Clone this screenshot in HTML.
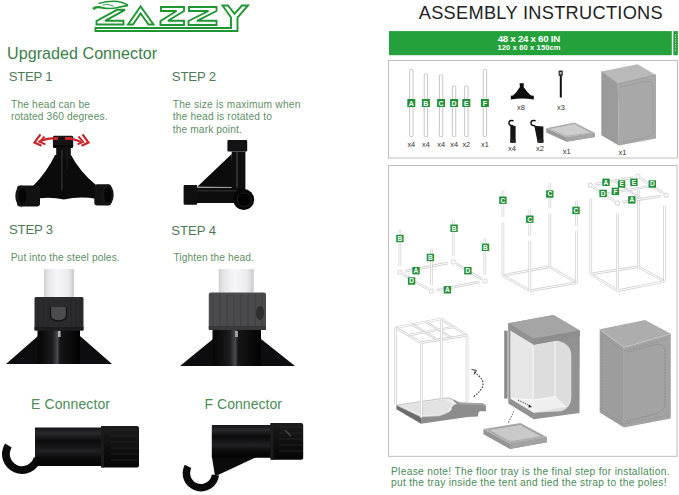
<!DOCTYPE html>
<html><head><meta charset="utf-8">
<style>
html,body{margin:0;padding:0;background:#fff;width:679px;height:495px;overflow:hidden}
svg{display:block}
text{font-family:"Liberation Sans",sans-serif}
</style></head><body>
<svg width="679" height="495" viewBox="0 0 679 495">
<g fill="#fff" stroke="#1e9632" stroke-width="1.9" stroke-linejoin="miter" stroke-miterlimit="3">
<polygon points="117,9.8 125,9.8 105,20.8 123.5,20.8 123.5,24.5 96.5,24.5 96.5,21"/>
<polygon points="128,24.5 140.6,6.5 153.5,24.5 148.5,24.5 140.6,13.5 133,24.5"/>
<polygon points="161,7 184,7 184,11 168,20.8 184,20.8 184,25 160.5,25 160.5,21 176.5,11 161,11"/>
<polygon points="189,7 216.5,7 216.5,11 197,20.8 216.5,20.8 216.5,25 188.5,25 188.5,21 208.5,11 189,11"/>
<polygon points="95.5,28 231,28 231,17.5 222.5,5.5 228,5.5 234.5,13.8 242,5.5 248,5.5 237.5,17.5 237.5,31 95.5,31"/>
</g>
<g fill="none" stroke="#1e9632" stroke-linecap="round">
<path d="M99,3.4 Q108,0.8 118,1.5 Q123,2.4 127.5,4.8" stroke-width="1.5"/>
<path d="M98,7.2 Q110,9.6 118,7.4 Q123,6 127.5,5.6" stroke-width="1.6"/>
<path d="M103,5 Q107,3.6 110,5 L113.5,6.2" stroke-width="0.9"/>
</g>
<path d="M92.3,8 Q94.5,5.6 99,6 L106,7.6 Q100,8.4 97.5,8.2 Q95,8.6 94,10.2 Z" fill="#1e9632"/>

<g fill="#3b8049">
<text x="7" y="58.7" font-size="16.1" textLength="150">Upgraded Connector</text>
</g>
<g fill="#4f7a57" font-size="13.2">
<text x="8.7" y="80.9" textLength="44">STEP 1</text>
<text x="171.8" y="81.1" textLength="44.3">STEP 2</text>
<text x="8.9" y="234.1" textLength="44.3">STEP 3</text>
<text x="171.3" y="234.6" textLength="44.8">STEP 4</text>
</g>
<g fill="#5e8f66" font-size="10.2">
<text x="11" y="107.8" textLength="79">The head can be</text>
<text x="11" y="120" textLength="96.5">rotated 360 degrees.</text>
<text x="172.8" y="107.9" textLength="127.5">The size is maximum when</text>
<text x="172.8" y="120.3" textLength="99">the head is rotated to</text>
<text x="172.8" y="133" textLength="69">the mark point.</text>
<text x="10.7" y="260.8" textLength="109">Put into the steel poles.</text>
<text x="173.4" y="260.8" textLength="80.5">Tighten the head.</text>
</g>
<g fill="#4b8c57" font-size="14">
<text x="31" y="409" textLength="79">E Connector</text>
<text x="204.5" y="409" textLength="77.5">F Connector</text>
</g>
<text x="418.7" y="18.8" font-size="18.2" fill="#222" textLength="244">ASSEMBLY INSTRUCTIONS</text>
<rect x="389" y="31.1" width="282.8" height="24.1" fill="#24a13b"/>
<rect x="673.3" y="31.1" width="4.6" height="24.1" fill="#24a13b"/><line x1="675.6" y1="34" x2="675.6" y2="52" stroke="#9fd8a8" stroke-width="1" stroke-dasharray="1.5,1"/>
<text x="497.7" y="41.6" font-size="9.7" font-weight="bold" fill="#fff" textLength="62.5">48 x 24 x 60 IN</text>
<text x="497.5" y="50.2" font-size="7.5" font-weight="bold" fill="#fff" textLength="63">120 x 60 x 150cm</text>
<g fill="#4b8a57" font-size="10.2">
<text x="391" y="475" textLength="278.5">Please note! The floor tray is the final step for installation.</text>
<text x="391" y="485.7" textLength="275.5">put the tray inside the tent and tied the strap to the poles!</text>
</g>

<defs>
<linearGradient id="tubeH" x1="0" y1="0" x2="1" y2="0">
<stop offset="0" stop-color="#050505"/><stop offset="0.35" stop-color="#1c1c1e"/><stop offset="0.47" stop-color="#4a4a4e"/><stop offset="0.53" stop-color="#151517"/><stop offset="1" stop-color="#020202"/>
</linearGradient>
<linearGradient id="poleH" x1="0" y1="0" x2="1" y2="0">
<stop offset="0" stop-color="#cfcfd3"/><stop offset="0.12" stop-color="#e4e4e8"/><stop offset="0.45" stop-color="#f6f6f8"/><stop offset="0.8" stop-color="#ececef"/><stop offset="1" stop-color="#cbcbcf"/>
</linearGradient>
<linearGradient id="bodyV" x1="0" y1="0" x2="0" y2="1">
<stop offset="0" stop-color="#141416"/><stop offset="0.15" stop-color="#2a2a2c"/><stop offset="0.35" stop-color="#0b0b0c"/><stop offset="0.62" stop-color="#202022"/><stop offset="0.8" stop-color="#0a0a0a"/><stop offset="1" stop-color="#030303"/>
</linearGradient>
<linearGradient id="capV" x1="0" y1="0" x2="0" y2="1">
<stop offset="0" stop-color="#1c1c1c"/><stop offset="0.5" stop-color="#101010"/><stop offset="1" stop-color="#050505"/>
</linearGradient>
</defs>

<!-- STEP 1 connector -->
<g id="c1">
<path d="M55,155 L71,155 Q80,172 96,185 L97,199 Q80,196 64,199.5 Q48,196 32,199.5 L33,186 Q47,172 55,155 Z" fill="#0b0b0c"/>
<rect x="56.2" y="147" width="14.6" height="12" fill="#101012"/>
<rect x="61" y="150" width="1.6" height="40" fill="#2a2a2e"/>
<rect x="66.5" y="150" width="1" height="20" fill="#1e1e22"/>
<rect x="52.9" y="135.7" width="20.3" height="12.2" rx="1.5" fill="#141416"/>
<rect x="53.5" y="145" width="19" height="2.5" fill="#0a0a0a"/>
<rect x="17" y="185.5" width="23" height="21" rx="3" fill="#121213"/>
<ellipse cx="21.5" cy="196" rx="6.2" ry="10.6" fill="#161617"/>
<ellipse cx="22.5" cy="196" rx="4" ry="8" fill="#050505"/>
<rect x="94.3" y="184.3" width="17" height="21.1" rx="3" fill="#121213"/>
<ellipse cx="107.5" cy="194.8" rx="6.2" ry="10.4" fill="#161617"/>
<ellipse cx="107.8" cy="194.8" rx="3.8" ry="7.8" fill="#050505"/>
<!-- red arrows -->
<g fill="none" stroke="#c8262b" stroke-width="2.2" stroke-linejoin="miter">
<path d="M53.5,138.4 Q45,138.6 38.5,142"/>
<path d="M65,138.4 Q74,138.6 81,142"/>
<path d="M40.5,134.3 L34.5,142.5 L41.5,145.8"/>
<path d="M44.5,136.5 L39.8,141.8 L45.5,144.3" stroke-width="1.9"/>
<path d="M82.5,134.3 L88.5,142.5 L81.5,145.8"/>
<path d="M78.5,136.5 L83.2,141.8 L77.5,144.3" stroke-width="1.9"/>
</g>
<rect x="53.5" y="137" width="4.5" height="3" fill="#c8262b"/>
<rect x="65" y="137" width="7" height="3" fill="#c8262b"/>
</g>

<!-- STEP 2 connector -->
<g id="c2">
<polygon points="197.3,186.7 231.7,154 233,187" fill="#0c0c0d"/>
<rect x="231.7" y="151.5" width="13.7" height="40" fill="#0e0e10"/>
<rect x="236" y="152" width="2" height="36" fill="#2e2e32"/>
<rect x="227.4" y="140" width="19.8" height="11.5" rx="1" fill="#131315"/>
<rect x="196.5" y="187.6" width="45" height="15.4" fill="#0d0d0e"/>
<rect x="196.5" y="190" width="40" height="1.5" fill="#262628"/>
<rect x="183.6" y="185" width="13.5" height="19.7" rx="1" fill="#0f0f10"/>
<circle cx="243.7" cy="199.6" r="10.5" fill="#070707"/>
<circle cx="244.2" cy="199.8" r="7" fill="#030303" stroke="#1e1e20" stroke-width="1"/>
</g>

<!-- STEP 3 -->
<g id="c3">
<rect x="44" y="269" width="30" height="28" fill="url(#poleH)"/>
<polygon points="6,364 38,336 38,364" fill="#0d0d10"/>
<polygon points="80,336 112,364 80,364" fill="#0d0d10"/>
<rect x="37.5" y="330" width="42.5" height="34" fill="url(#tubeH)"/>
<rect x="34.5" y="297" width="49" height="33.4" rx="1.5" fill="#2b2b2d"/>
<g stroke="#232325" stroke-width="0.8"><line x1="38" y1="299" x2="38" y2="328"/><line x1="43" y1="299" x2="43" y2="328"/><line x1="48" y1="299" x2="48" y2="328"/><line x1="71" y1="299" x2="71" y2="328"/><line x1="76" y1="299" x2="76" y2="328"/><line x1="80" y1="299" x2="80" y2="328"/></g>
<rect x="34.5" y="327" width="49" height="3.4" fill="#1c1c1e"/>
<path d="M50.5,307 L50.5,315.5 Q50.5,320.5 58.5,321 Q66.5,320.5 66.5,315.5 L66.5,307" fill="#4c4c4e" stroke="#141416" stroke-width="1.4"/>
<rect x="58" y="331" width="2.6" height="6" fill="#b0b0b0"/>
</g>

<!-- STEP 4 -->
<g id="c4">
<rect x="218.75" y="269" width="35" height="23.5" fill="url(#poleH)"/>
<polygon points="180,366 213,339 213,366" fill="#0d0d10"/>
<polygon points="261,339 295,366 261,366" fill="#0d0d10"/>
<rect x="212.5" y="330" width="48.5" height="36" fill="url(#tubeH)"/>
<rect x="208.75" y="292.5" width="57.25" height="37.5" rx="2" fill="#4b4b4d"/>
<g stroke="#3e3e40" stroke-width="1">
<line x1="213" y1="294" x2="213" y2="329"/><line x1="220" y1="294" x2="220" y2="329"/><line x1="227" y1="294" x2="227" y2="329"/><line x1="234" y1="294" x2="234" y2="329"/><line x1="241" y1="294" x2="241" y2="329"/><line x1="248" y1="294" x2="248" y2="329"/><line x1="255" y1="294" x2="255" y2="329"/><line x1="262" y1="294" x2="262" y2="329"/>
</g>
<rect x="208.75" y="326" width="57.25" height="4" fill="#3a3a3c"/>
<ellipse cx="260" cy="313" rx="4" ry="7" fill="#2f2f31"/>
<rect x="235" y="331" width="3" height="6" fill="#a0a0a0"/>
</g>

<!-- E connector -->
<g id="ce">
<path d="M5.0,443.4 A20,20 0 1 0 41.3,459.2 L33.8,457.2 A12.2,12.2 0 1 1 11.7,447.5 Z" fill="#0a0a0a"/>
<rect x="35" y="427.5" width="67.5" height="38.5" fill="url(#bodyV)"/>
<rect x="101" y="426" width="38" height="41.5" rx="2" fill="url(#capV)"/>
<g stroke="#262626" stroke-width="0.8"><line x1="111" y1="430" x2="138" y2="430"/><line x1="111" y1="436" x2="138" y2="436"/><line x1="111" y1="442" x2="138" y2="442"/><line x1="111" y1="448" x2="138" y2="448"/><line x1="111" y1="454" x2="138" y2="454"/><line x1="111" y1="460" x2="138" y2="460"/></g>
<rect x="101" y="426" width="3" height="41.5" fill="#1a1a1a"/>
</g>

<!-- F connector -->
<g id="cf">
<polygon points="211.8,456 258.5,456 218,475 214.8,475" fill="#0b0b0b"/>
<path d="M184.7,464.7 A18.3,18.3 0 1 0 219.1,475.5 L211.8,474.5 A10.9,10.9 0 1 1 191.3,468.1 Z" fill="#0a0a0a"/>
<rect x="211.8" y="424.9" width="60.6" height="32.8" rx="1" fill="url(#bodyV)"/>
<rect x="270.4" y="423" width="32.8" height="36.7" rx="2" fill="url(#capV)"/>
<g stroke="#262626" stroke-width="0.8"><line x1="279" y1="427" x2="302" y2="427"/><line x1="279" y1="433" x2="302" y2="433"/><line x1="279" y1="439" x2="302" y2="439"/><line x1="279" y1="445" x2="302" y2="445"/><line x1="279" y1="451" x2="302" y2="451"/></g>
<path d="M285,430 L291,436" stroke="#4a4a4a" stroke-width="1.5"/>
<rect x="270.4" y="423" width="3" height="36.7" fill="#1c1c1c"/>
</g>

<rect x="388.5" y="60.5" width="289" height="97.5" fill="none" stroke="#bcc1bc" stroke-width="1"/>
<rect x="409.6" y="69.4" width="3.4" height="67.2" rx="1" fill="#fff" stroke="#c0c0c0" stroke-width="0.9"/>
<rect x="407.3" y="99.0" width="8" height="8" fill="#23903a"/><text x="411.3" y="105.5" font-size="7" font-weight="bold" fill="#fff" text-anchor="middle">A</text>
<text x="411.3" y="146.6" font-size="7.3" fill="#333" text-anchor="middle">x4</text>
<rect x="424.2" y="74.0" width="3.4" height="62.6" rx="1" fill="#fff" stroke="#c0c0c0" stroke-width="0.9"/>
<rect x="421.9" y="99.0" width="8" height="8" fill="#23903a"/><text x="425.9" y="105.5" font-size="7" font-weight="bold" fill="#fff" text-anchor="middle">B</text>
<text x="425.9" y="146.6" font-size="7.3" fill="#333" text-anchor="middle">x4</text>
<rect x="439.4" y="75.0" width="3.4" height="61.6" rx="1" fill="#fff" stroke="#c0c0c0" stroke-width="0.9"/>
<rect x="437.1" y="99.0" width="8" height="8" fill="#23903a"/><text x="441.1" y="105.5" font-size="7" font-weight="bold" fill="#fff" text-anchor="middle">C</text>
<text x="441.1" y="146.6" font-size="7.3" fill="#333" text-anchor="middle">x4</text>
<rect x="452.4" y="86.0" width="3.4" height="50.6" rx="1" fill="#fff" stroke="#c0c0c0" stroke-width="0.9"/>
<rect x="450.1" y="99.0" width="8" height="8" fill="#23903a"/><text x="454.1" y="105.5" font-size="7" font-weight="bold" fill="#fff" text-anchor="middle">D</text>
<text x="454.1" y="146.6" font-size="7.3" fill="#333" text-anchor="middle">x4</text>
<rect x="464.6" y="86.0" width="3.4" height="50.6" rx="1" fill="#fff" stroke="#c0c0c0" stroke-width="0.9"/>
<rect x="462.3" y="99.0" width="8" height="8" fill="#23903a"/><text x="466.3" y="105.5" font-size="7" font-weight="bold" fill="#fff" text-anchor="middle">E</text>
<text x="466.3" y="146.6" font-size="7.3" fill="#333" text-anchor="middle">x2</text>
<rect x="483.2" y="69.4" width="3.4" height="67.2" rx="1" fill="#fff" stroke="#c0c0c0" stroke-width="0.9"/>
<rect x="480.9" y="99.0" width="8" height="8" fill="#23903a"/><text x="484.9" y="105.5" font-size="7" font-weight="bold" fill="#fff" text-anchor="middle">F</text>
<text x="484.9" y="146.6" font-size="7.3" fill="#333" text-anchor="middle">x1</text>
<path d="M519.6,83.2 L523.9,83.2 L523.6,87 Q527,92 531,95.6 L533.8,95.8 L533.8,99.6 Q522,97.6 510.8,99.6 L510.8,95.8 L513,95.6 Q517,92 519.9,87 Z" fill="#0d0d0d"/>
<text x="521" y="109.6" font-size="7.5" fill="#333" text-anchor="middle">x8</text>
<rect x="559.8" y="75" width="2" height="22.5" fill="#111"/><rect x="558.6" y="70.6" width="4.2" height="5.4" rx="1" fill="#2a2a2a"/><rect x="559.8" y="72" width="1.8" height="2.4" fill="#bbb"/>
<text x="561" y="109.6" font-size="7.5" fill="#333" text-anchor="middle">x3</text>
<path d="M513.6,120.8 Q509,119.5 509,123 Q509,126 513.2,125.8" fill="none" stroke="#111" stroke-width="1.5"/><rect x="510.3" y="125.8" width="5.3" height="16.9" fill="#151515"/><rect x="510.3" y="139.5" width="5.3" height="3.2" fill="#262626"/>
<text x="512" y="150.5" font-size="7.5" fill="#333" text-anchor="middle">x4</text>
<path d="M535.6,120.8 Q531,119.5 531,123 Q531,126 535.2,125.8" fill="none" stroke="#111" stroke-width="1.5"/><polygon points="534.3,125.8 543.4,126.6 543.4,142.7 537.7,142.7" fill="#151515"/><rect x="537.7" y="139.5" width="5.7" height="3.2" fill="#262626"/>
<text x="540" y="150.5" font-size="7.5" fill="#333" text-anchor="middle">x2</text>
<polygon points="546.2,128.3 566.5,137.3 594.9,132.7 594.9,137 566.5,141.7 546.2,132.6" fill="#989898"/><polygon points="566.5,137.3 594.9,132.7 594.9,137 566.5,141.7" fill="#a6a6a6"/>
<polygon points="546.2,128.3 574.5,122.5 594.9,132.7 566.5,137.3" fill="#b2b2b2"/>
<polygon points="549.5,128.4 574.3,123.6 591,132.5 566.4,135.8" fill="#cdcdcd"/><polyline points="549.5,128.4 574.3,123.6 591,132.5" fill="none" stroke="#989898" stroke-width="0.6"/>
<text x="566.6" y="153.7" font-size="7.5" fill="#333" text-anchor="middle">x1</text>
<polygon points="601.3,71.4 617.8,83.8 618.9,145.6 601.3,135.3" fill="#9b9b9b"/>
<polygon points="617.8,83.8 656.0,74.9 656.0,138.4 618.9,145.6" fill="#a8a8a8"/>
<polygon points="601.3,71.4 637.4,64.2 656.0,74.9 617.8,83.8" fill="#b9b9b9"/>
<path d="M621,87 L645,81.5 Q653,80 653,88 L653,130 Q653,136 646,137.5 L621.5,142.5" fill="none" stroke="#8f8f8f" stroke-width="0.7" stroke-dasharray="1.5,0.8"/>
<polyline points="601.3,71.4 617.8,83.8 656.0,74.9" fill="none" stroke="#8e8e8e" stroke-width="0.7"/>
<text x="622.4" y="155.3" font-size="7.5" fill="#333" text-anchor="middle">x1</text>
<rect x="388.5" y="165.5" width="288.5" height="290.8" fill="none" stroke="#bcc1bc" stroke-width="1"/>
<line x1="405.2" y1="271.2" x2="447.9" y2="263.0" stroke="#cacaca" stroke-width="2.4"/><line x1="405.2" y1="271.2" x2="447.9" y2="263.0" stroke="#fff" stroke-width="1.1"/>
<line x1="456.4" y1="263.9" x2="481.7" y2="279.1" stroke="#cacaca" stroke-width="2.4"/><line x1="456.4" y1="263.9" x2="481.7" y2="279.1" stroke="#fff" stroke-width="1.1"/>
<line x1="479.5" y1="282.0" x2="436.7" y2="290.2" stroke="#cacaca" stroke-width="2.4"/><line x1="479.5" y1="282.0" x2="436.7" y2="290.2" stroke="#fff" stroke-width="1.1"/>
<line x1="428.2" y1="289.3" x2="403.0" y2="274.1" stroke="#cacaca" stroke-width="2.4"/><line x1="428.2" y1="289.3" x2="403.0" y2="274.1" stroke="#fff" stroke-width="1.1"/>
<line x1="399.9" y1="229.7" x2="399.9" y2="266.0" stroke="#cacaca" stroke-width="2.6"/><line x1="399.9" y1="229.7" x2="399.9" y2="266.0" stroke="#fff" stroke-width="1.3"/>
<line x1="453.2" y1="220.0" x2="453.2" y2="256.0" stroke="#cacaca" stroke-width="2.6"/><line x1="453.2" y1="220.0" x2="453.2" y2="256.0" stroke="#fff" stroke-width="1.3"/>
<line x1="484.9" y1="238.5" x2="484.9" y2="275.0" stroke="#cacaca" stroke-width="2.6"/><line x1="484.9" y1="238.5" x2="484.9" y2="275.0" stroke="#fff" stroke-width="1.3"/>
<line x1="431.3" y1="249.3" x2="431.3" y2="285.0" stroke="#cacaca" stroke-width="2.6"/><line x1="431.3" y1="249.3" x2="431.3" y2="285.0" stroke="#fff" stroke-width="1.3"/>
<rect x="397.9" y="270.2" width="4" height="4" rx="1.2" fill="#fff" stroke="#c6c6c6" stroke-width="0.8"/>
<rect x="451.2" y="260.0" width="4" height="4" rx="1.2" fill="#fff" stroke="#c6c6c6" stroke-width="0.8"/>
<rect x="482.9" y="279.0" width="4" height="4" rx="1.2" fill="#fff" stroke="#c6c6c6" stroke-width="0.8"/>
<rect x="429.3" y="289.2" width="4" height="4" rx="1.2" fill="#fff" stroke="#c6c6c6" stroke-width="0.8"/>
<rect x="396.2" y="234.8" width="7.4" height="7.4" fill="#23903a"/><text x="399.9" y="240.9" font-size="6.6" font-weight="bold" fill="#fff" text-anchor="middle">B</text>
<rect x="450.4" y="224.5" width="7.4" height="7.4" fill="#23903a"/><text x="454.1" y="230.6" font-size="6.6" font-weight="bold" fill="#fff" text-anchor="middle">B</text>
<rect x="481.8" y="243.6" width="7.4" height="7.4" fill="#23903a"/><text x="485.5" y="249.7" font-size="6.6" font-weight="bold" fill="#fff" text-anchor="middle">B</text>
<rect x="426.7" y="253.8" width="7.4" height="7.4" fill="#23903a"/><text x="430.4" y="259.9" font-size="6.6" font-weight="bold" fill="#fff" text-anchor="middle">B</text>
<rect x="412.3" y="267.0" width="7.4" height="7.4" fill="#23903a"/><text x="416.0" y="273.1" font-size="6.6" font-weight="bold" fill="#fff" text-anchor="middle">A</text>
<rect x="443.7" y="286.1" width="7.4" height="7.4" fill="#23903a"/><text x="447.4" y="292.2" font-size="6.6" font-weight="bold" fill="#fff" text-anchor="middle">A</text>
<rect x="407.9" y="277.3" width="7.4" height="7.4" fill="#23903a"/><text x="411.6" y="283.4" font-size="6.6" font-weight="bold" fill="#fff" text-anchor="middle">D</text>
<rect x="464.2" y="267.0" width="7.4" height="7.4" fill="#23903a"/><text x="467.9" y="273.1" font-size="6.6" font-weight="bold" fill="#fff" text-anchor="middle">D</text>
<line x1="502.9" y1="275.5" x2="549.8" y2="266.7" stroke="#cacaca" stroke-width="2.4"/><line x1="502.9" y1="275.5" x2="549.8" y2="266.7" stroke="#fff" stroke-width="1.1"/>
<line x1="549.8" y1="266.7" x2="576.7" y2="282.8" stroke="#cacaca" stroke-width="2.4"/><line x1="549.8" y1="266.7" x2="576.7" y2="282.8" stroke="#fff" stroke-width="1.1"/>
<line x1="576.7" y1="282.8" x2="529.8" y2="290.7" stroke="#cacaca" stroke-width="2.4"/><line x1="576.7" y1="282.8" x2="529.8" y2="290.7" stroke="#fff" stroke-width="1.1"/>
<line x1="529.8" y1="290.7" x2="502.9" y2="275.5" stroke="#cacaca" stroke-width="2.4"/><line x1="529.8" y1="290.7" x2="502.9" y2="275.5" stroke="#fff" stroke-width="1.1"/>
<line x1="502.9" y1="190.5" x2="502.9" y2="217.0" stroke="#cacaca" stroke-width="2.6"/><line x1="502.9" y1="190.5" x2="502.9" y2="217.0" stroke="#fff" stroke-width="1.3"/>
<line x1="502.9" y1="222.0" x2="502.9" y2="275.5" stroke="#cacaca" stroke-width="2.6"/><line x1="502.9" y1="222.0" x2="502.9" y2="275.5" stroke="#fff" stroke-width="1.3"/>
<line x1="549.8" y1="183.0" x2="549.8" y2="208.0" stroke="#cacaca" stroke-width="2.6"/><line x1="549.8" y1="183.0" x2="549.8" y2="208.0" stroke="#fff" stroke-width="1.3"/>
<line x1="549.8" y1="213.0" x2="549.8" y2="266.7" stroke="#cacaca" stroke-width="2.6"/><line x1="549.8" y1="213.0" x2="549.8" y2="266.7" stroke="#fff" stroke-width="1.3"/>
<line x1="576.7" y1="200.8" x2="576.7" y2="226.0" stroke="#cacaca" stroke-width="2.6"/><line x1="576.7" y1="200.8" x2="576.7" y2="226.0" stroke="#fff" stroke-width="1.3"/>
<line x1="576.7" y1="231.0" x2="576.7" y2="282.8" stroke="#cacaca" stroke-width="2.6"/><line x1="576.7" y1="231.0" x2="576.7" y2="282.8" stroke="#fff" stroke-width="1.3"/>
<line x1="529.8" y1="209.6" x2="529.8" y2="236.0" stroke="#cacaca" stroke-width="2.6"/><line x1="529.8" y1="209.6" x2="529.8" y2="236.0" stroke="#fff" stroke-width="1.3"/>
<line x1="529.8" y1="241.0" x2="529.8" y2="290.7" stroke="#cacaca" stroke-width="2.6"/><line x1="529.8" y1="241.0" x2="529.8" y2="290.7" stroke="#fff" stroke-width="1.3"/>
<rect x="499.2" y="196.5" width="7.4" height="7.4" fill="#23903a"/><text x="502.9" y="202.6" font-size="6.6" font-weight="bold" fill="#fff" text-anchor="middle">C</text>
<rect x="546.1" y="190.3" width="7.4" height="7.4" fill="#23903a"/><text x="549.8" y="196.4" font-size="6.6" font-weight="bold" fill="#fff" text-anchor="middle">C</text>
<rect x="572.3" y="206.7" width="7.4" height="7.4" fill="#23903a"/><text x="576.0" y="212.8" font-size="6.6" font-weight="bold" fill="#fff" text-anchor="middle">C</text>
<rect x="526.1" y="215.5" width="7.4" height="7.4" fill="#23903a"/><text x="529.8" y="221.6" font-size="6.6" font-weight="bold" fill="#fff" text-anchor="middle">C</text>
<line x1="590.8" y1="274.0" x2="638.3" y2="266.7" stroke="#cacaca" stroke-width="2.4"/><line x1="590.8" y1="274.0" x2="638.3" y2="266.7" stroke="#fff" stroke-width="1.1"/>
<line x1="638.3" y1="266.7" x2="664.6" y2="281.4" stroke="#cacaca" stroke-width="2.4"/><line x1="638.3" y1="266.7" x2="664.6" y2="281.4" stroke="#fff" stroke-width="1.1"/>
<line x1="664.6" y1="281.4" x2="617.7" y2="290.7" stroke="#cacaca" stroke-width="2.4"/><line x1="664.6" y1="281.4" x2="617.7" y2="290.7" stroke="#fff" stroke-width="1.1"/>
<line x1="617.7" y1="290.7" x2="590.8" y2="274.0" stroke="#cacaca" stroke-width="2.4"/><line x1="617.7" y1="290.7" x2="590.8" y2="274.0" stroke="#fff" stroke-width="1.1"/>
<line x1="590.8" y1="198.5" x2="590.8" y2="274.0" stroke="#cacaca" stroke-width="2.6"/><line x1="590.8" y1="198.5" x2="590.8" y2="274.0" stroke="#fff" stroke-width="1.3"/>
<line x1="638.3" y1="190.5" x2="638.3" y2="266.7" stroke="#cacaca" stroke-width="2.6"/><line x1="638.3" y1="190.5" x2="638.3" y2="266.7" stroke="#fff" stroke-width="1.3"/>
<line x1="664.6" y1="205.8" x2="664.6" y2="281.4" stroke="#cacaca" stroke-width="2.6"/><line x1="664.6" y1="205.8" x2="664.6" y2="281.4" stroke="#fff" stroke-width="1.3"/>
<line x1="617.7" y1="213.0" x2="617.7" y2="290.7" stroke="#cacaca" stroke-width="2.6"/><line x1="617.7" y1="213.0" x2="617.7" y2="290.7" stroke="#fff" stroke-width="1.3"/>
<line x1="595.1" y1="184.3" x2="633.2" y2="177.5" stroke="#cacaca" stroke-width="2.4"/><line x1="595.1" y1="184.3" x2="633.2" y2="177.5" stroke="#fff" stroke-width="1.1"/>
<line x1="640.8" y1="178.5" x2="663.1" y2="193.3" stroke="#cacaca" stroke-width="2.4"/><line x1="640.8" y1="178.5" x2="663.1" y2="193.3" stroke="#fff" stroke-width="1.1"/>
<line x1="661.1" y1="196.0" x2="622.3" y2="202.3" stroke="#cacaca" stroke-width="2.4"/><line x1="661.1" y1="196.0" x2="622.3" y2="202.3" stroke="#fff" stroke-width="1.1"/>
<line x1="614.8" y1="201.3" x2="593.0" y2="187.0" stroke="#cacaca" stroke-width="2.4"/><line x1="614.8" y1="201.3" x2="593.0" y2="187.0" stroke="#fff" stroke-width="1.1"/>
<rect x="588.3" y="183.2" width="4" height="4" rx="1.2" fill="#fff" stroke="#c6c6c6" stroke-width="0.8"/>
<rect x="636.0" y="174.6" width="4" height="4" rx="1.2" fill="#fff" stroke="#c6c6c6" stroke-width="0.8"/>
<rect x="663.9" y="193.2" width="4" height="4" rx="1.2" fill="#fff" stroke="#c6c6c6" stroke-width="0.8"/>
<rect x="615.5" y="201.1" width="4" height="4" rx="1.2" fill="#fff" stroke="#c6c6c6" stroke-width="0.8"/>
<line x1="614.1" y1="180.9" x2="641.7" y2="199.1" stroke="#cacaca" stroke-width="2.2"/><line x1="614.1" y1="180.9" x2="641.7" y2="199.1" stroke="#fff" stroke-width="0.9"/>
<line x1="603.9" y1="194.1" x2="652.0" y2="185.9" stroke="#cacaca" stroke-width="2.2"/><line x1="603.9" y1="194.1" x2="652.0" y2="185.9" stroke="#fff" stroke-width="0.9"/>
<rect x="602.3" y="178.6" width="7.4" height="7.4" fill="#23903a"/><text x="606.0" y="184.7" font-size="6.6" font-weight="bold" fill="#fff" text-anchor="middle">A</text>
<rect x="617.9" y="180.3" width="7.4" height="7.4" fill="#23903a"/><text x="621.6" y="186.4" font-size="6.6" font-weight="bold" fill="#fff" text-anchor="middle">E</text>
<rect x="630.2" y="178.6" width="7.4" height="7.4" fill="#23903a"/><text x="633.9" y="184.7" font-size="6.6" font-weight="bold" fill="#fff" text-anchor="middle">E</text>
<rect x="648.6" y="180.3" width="7.4" height="7.4" fill="#23903a"/><text x="652.3" y="186.4" font-size="6.6" font-weight="bold" fill="#fff" text-anchor="middle">D</text>
<rect x="599.4" y="189.7" width="7.4" height="7.4" fill="#23903a"/><text x="603.1" y="195.8" font-size="6.6" font-weight="bold" fill="#fff" text-anchor="middle">D</text>
<rect x="611.7" y="187.7" width="7.4" height="7.4" fill="#23903a"/><text x="615.4" y="193.8" font-size="6.6" font-weight="bold" fill="#fff" text-anchor="middle">F</text>
<rect x="628.1" y="196.2" width="7.4" height="7.4" fill="#23903a"/><text x="631.8" y="202.3" font-size="6.6" font-weight="bold" fill="#fff" text-anchor="middle">A</text>
<path d="M445,398 Q448,397.5 452,399 L460,402.5 L482,403.3 Q486,404 486,407 L486,411.3 L480,411.3 Q478,412 478,416.6 L467.5,417.1 L421.1,423.7 L421.1,417.1 L439.6,416 Q451.6,412 451.6,409 Q452,405 456.9,404 Z" fill="#8d8d8d"/>
<path d="M452,399 L460,402.5 L482,403.3 Q486,404 486,407 L482,405 L460,404.5 Z" fill="#a5a5a5"/>
<polygon points="396.4,405.2 421.1,417.1 421.1,423.7 396.4,409.2" fill="#6c6c6c"/>
<path d="M396.4,405.2 L445,398 Q448,397.5 452,399 L456.9,404 Q452,405 451.6,409 Q451.6,412 439.6,416 L421.1,417.1 Z" fill="#ececec" stroke="#a0a0a0" stroke-width="0.6"/>
<path d="M401,405.5 L444,399.5 L454,404.5 Q449,406 449,409.5 Q447,413 438,414.5 L421.5,415 Z" fill="#e2e2e2"/>
<line x1="395.6" y1="327.6" x2="441.3" y2="318.9" stroke="#cacaca" stroke-width="2.4"/><line x1="395.6" y1="327.6" x2="441.3" y2="318.9" stroke="#fff" stroke-width="1.1"/>
<line x1="441.3" y1="318.9" x2="467.0" y2="335.2" stroke="#cacaca" stroke-width="2.4"/><line x1="441.3" y1="318.9" x2="467.0" y2="335.2" stroke="#fff" stroke-width="1.1"/>
<line x1="467.0" y1="335.2" x2="421.3" y2="342.7" stroke="#cacaca" stroke-width="2.4"/><line x1="467.0" y1="335.2" x2="421.3" y2="342.7" stroke="#fff" stroke-width="1.1"/>
<line x1="421.3" y1="342.7" x2="395.6" y2="327.6" stroke="#cacaca" stroke-width="2.4"/><line x1="421.3" y1="342.7" x2="395.6" y2="327.6" stroke="#fff" stroke-width="1.1"/>
<line x1="412.1" y1="324.5" x2="437.8" y2="340.0" stroke="#cacaca" stroke-width="2.2"/><line x1="412.1" y1="324.5" x2="437.8" y2="340.0" stroke="#fff" stroke-width="0.9"/>
<line x1="425.8" y1="321.9" x2="451.5" y2="337.8" stroke="#cacaca" stroke-width="2.2"/><line x1="425.8" y1="321.9" x2="451.5" y2="337.8" stroke="#fff" stroke-width="0.9"/>
<line x1="408.5" y1="335.1" x2="454.1" y2="327.0" stroke="#cacaca" stroke-width="2.2"/><line x1="408.5" y1="335.1" x2="454.1" y2="327.0" stroke="#fff" stroke-width="0.9"/>
<line x1="395.6" y1="327.6" x2="395.6" y2="404.5" stroke="#cacaca" stroke-width="2.6"/><line x1="395.6" y1="327.6" x2="395.6" y2="404.5" stroke="#fff" stroke-width="1.3"/>
<line x1="421.3" y1="342.7" x2="421.3" y2="417.5" stroke="#cacaca" stroke-width="2.6"/><line x1="421.3" y1="342.7" x2="421.3" y2="417.5" stroke="#fff" stroke-width="1.3"/>
<line x1="467.0" y1="335.2" x2="467.0" y2="402.5" stroke="#cacaca" stroke-width="2.6"/><line x1="467.0" y1="335.2" x2="467.0" y2="402.5" stroke="#fff" stroke-width="1.3"/>
<line x1="441.3" y1="318.9" x2="441.3" y2="398.5" stroke="#cacaca" stroke-width="2.6"/><line x1="441.3" y1="318.9" x2="441.3" y2="398.5" stroke="#fff" stroke-width="1.3"/>
<path d="M474,372 Q486,380 482,388 Q479,393 473.7,396.5" fill="none" stroke="#333" stroke-width="1.1" stroke-dasharray="1.6,1.4"/>
<path d="M471.5,369.5 L476.5,370.5 L474,374.5" fill="none" stroke="#333" stroke-width="1"/>
<rect x="504.2" y="330.6" width="3.4" height="68" fill="#8a8a8a"/>
<polygon points="508.3,323.3 553.5,315.1 579.8,330.6 579.5,412.9 533.8,419.3 508.3,403.5" fill="#929292"/>
<polygon points="510.3,330.0 533.8,344.5 533.8,412.8 510.3,398.5" fill="#e6e6e6"/>
<path d="M533.8,344.5 L556,340.5 Q571.3,343 571.3,356 L571.3,397 Q571.3,408 561.4,411.2 L533.8,412.8 Z" fill="#dddddd"/><polygon points="510.3,398.5 533.8,412.8 566,407 555,396.7 533.8,400" fill="#efefef"/>
<polygon points="508.3,323.3 553.5,315.1 579.8,330.6 533.8,338.8" fill="#a5a5a5"/>
<polygon points="508.3,323.3 533.8,338.8 533.8,344.8 508.3,329.3" fill="#929292"/>
<polygon points="533.8,338.8 579.8,330.6 579.8,336.6 533.8,344.8" fill="#8d8d8d"/>
<line x1="533.1" y1="346" x2="533.1" y2="412" stroke="#f8f8f8" stroke-width="1.1"/>
<line x1="554.9" y1="342" x2="554.9" y2="396.7" stroke="#f6f6f6" stroke-width="1.1"/>
<polyline points="511,398.5 533.5,400 555,396.7 566,407" fill="none" stroke="#fafafa" stroke-width="1"/>
<path d="M518,400 L530,406" stroke="#333" stroke-width="1" stroke-dasharray="1.3,1.3"/>
<polygon points="529,404.5 532,407 528.5,407.5" fill="#222"/>
<line x1="508.5" y1="422.5" x2="513.8" y2="411.3" stroke="#333" stroke-width="1" stroke-dasharray="1.3,1.5"/>
<polygon points="483.4,429 509.9,443.6 547,437 547,442.3 509.9,448.9 483.4,434.3" fill="#959595"/>
<polygon points="509.9,443.6 547,437 547,442.3 509.9,448.9" fill="#a2a2a2"/>
<polygon points="483.4,429 520.5,423 547,437 509.9,443.6" fill="#acacac"/>
<polygon points="489,429.4 520.3,424.6 541.5,436.2 510,441.2" fill="#c9c9c9"/>
<polyline points="489,429.4 520.3,424.6 541.5,436.2" fill="none" stroke="#8e8e8e" stroke-width="0.6"/>
<polygon points="599.7,329.2 623.9,347.4 623.9,427.6 599.7,412.5" fill="#9d9d9d"/>
<polygon points="623.9,347.4 670.8,333.8 670.8,418.5 623.9,427.6" fill="#a3a3a3"/>
<polygon points="599.7,329.2 645.1,320.1 670.8,333.8 623.9,347.4" fill="#adadad"/>
<polyline points="599.7,329.2 623.9,347.4 670.8,333.8" fill="none" stroke="#c4c4c4" stroke-width="0.8"/>
<path d="M627,352 L654,345 Q665,342.5 665,353 L665,402 Q665,412 654,414.5 L627,421" fill="none" stroke="#858585" stroke-width="0.8" stroke-dasharray="2,1"/>
<polyline points="602,335 623.5,351 668,338.5" fill="none" stroke="#8a8a8a" stroke-width="0.6" stroke-dasharray="2,1"/>
<line x1="602" y1="335" x2="602" y2="410" stroke="#8e8e8e" stroke-width="0.6" stroke-dasharray="2,1"/>
<polyline points="602,410 623.5,424 668,415.5" fill="none" stroke="#8a8a8a" stroke-width="0.6" stroke-dasharray="2,1"/>

</svg>
</body></html>
